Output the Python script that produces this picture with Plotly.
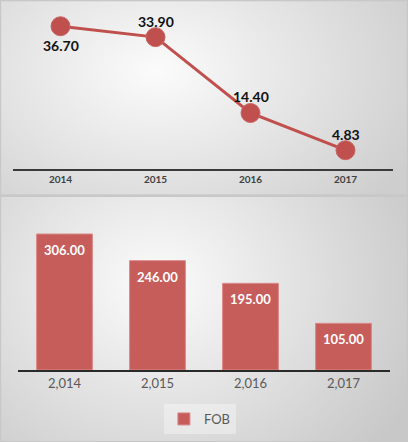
import base64
import struct
import zlib

import plotly.graph_objects as go
from plotly.subplots import make_subplots

# top chart: line
line_years = ["2014", "2015", "2016", "2017"]
line_values = [36.70, 33.90, 14.40, 4.83]
line_label_below = [True, False, False, False]

# bottom chart: bars
bar_years = ["2,014", "2,015", "2,016", "2,017"]
fob_values = [306.00, 246.00, 195.00, 105.00]

RED = "#c0504d"
BAR_RED = "#c75d5b"
W, H = 408, 442
FONT = "Lato, Open Sans, sans-serif"


def gradient_png(w, h, cx, cy, c_in, c_out):
    # small radial grey gradient, stretched behind each panel
    raw = bytearray()
    for j in range(h):
        raw.append(0)
        for i in range(w):
            d = ((i / w - cx) ** 2 + ((j / h - cy) * 0.7) ** 2) ** 0.5 / 0.72
            d = min(1.0, d)
            v = int(c_in + (c_out - c_in) * d)
            raw += bytes([v, v, v])

    def chunk(tag, data):
        return (struct.pack(">I", len(data)) + tag + data
                + struct.pack(">I", zlib.crc32(tag + data) & 0xffffffff))

    png = (b"\x89PNG\r\n\x1a\n"
           + chunk(b"IHDR", struct.pack(">IIBBBBB", w, h, 8, 2, 0, 0, 0))
           + chunk(b"IDAT", zlib.compress(bytes(raw)))
           + chunk(b"IEND", b""))
    return "data:image/png;base64," + base64.b64encode(png).decode()


fig = make_subplots(rows=2, cols=1)

fig.add_trace(go.Scatter(
    x=line_years, y=line_values,
    mode="lines+markers",
    line=dict(color=RED, width=3),
    marker=dict(color=RED, size=19, line=dict(color="#c86563", width=1)),
    showlegend=False, cliponaxis=False, hoverinfo="skip",
), row=1, col=1)

fig.add_trace(go.Bar(
    x=bar_years, y=fob_values, name="FOB",
    marker=dict(color=BAR_RED, line=dict(color="#d98886", width=1)),
    width=0.6, hoverinfo="skip",
), row=2, col=1)

# value labels (category index on the x axis, value on the y axis)
for i, (v, below) in enumerate(zip(line_values, line_label_below)):
    fig.add_annotation(x=i, y=v, xref="x", yref="y", text=f"{v:.2f}", showarrow=False,
                       yshift=-19 if below else 16,
                       font=dict(family=FONT, size=14, color="#111111", weight="bold"))
for i, v in enumerate(fob_values):
    fig.add_annotation(x=i, y=v, xref="x2", yref="y2", text=f"{v:.2f}", showarrow=False,
                       yshift=-16,
                       font=dict(family=FONT, size=13, color="white", weight="bold"))

top_img = gradient_png(136, 66, 0.38, 0.35, 252, 206)
bot_img = gradient_png(136, 82, 0.38, 0.35, 252, 200)

fig.update_layout(
    width=W, height=H,
    margin=dict(l=0, r=0, t=0, b=0),
    paper_bgcolor="#c8c8c8",
    plot_bgcolor="rgba(0,0,0,0)",
    font=dict(family=FONT),
    images=[
        dict(source=top_img, xref="paper", yref="paper", x=0.003, y=0.997,
             sizex=0.994, sizey=193 / H, sizing="stretch", layer="below"),
        dict(source=bot_img, xref="paper", yref="paper", x=0.003, y=1 - 197 / H,
             sizex=0.994, sizey=244 / H, sizing="stretch", layer="below"),
    ],
    legend=dict(orientation="h", x=0.49, xanchor="center", y=1 - 419 / H, yanchor="middle",
                bgcolor="rgba(255,255,255,0.35)", itemwidth=30,
                font=dict(size=13, color="#595959")),
)

fig.update_xaxes(row=1, col=1, type="category", domain=[13 / W, 393 / W], range=[-0.5, 3.5],
                 showline=True, linecolor="#3a3a3a",
                 linewidth=2, showgrid=False, ticks="", fixedrange=True,
                 tickfont=dict(size=10, color="#404040", weight="bold"))
fig.update_yaxes(row=1, col=1, domain=[1 - 169 / H, 1 - 13.4 / H], range=[0, 40],
                 visible=False, showgrid=False, fixedrange=True)

fig.update_xaxes(row=2, col=1, type="category", domain=[18 / W, 390 / W], range=[-0.5, 3.5],
                 showline=True, linecolor="#2a2a2a",
                 linewidth=2, showgrid=False, ticks="", fixedrange=True,
                 tickfont=dict(size=13, color="#595959"))
fig.update_yaxes(row=2, col=1, domain=[1 - 370 / H, 1 - (370 - 350 * 136 / 306) / H],
                 range=[0, 350], visible=False, showgrid=False, fixedrange=True)

fig.write_html("out.html", config={"displayModeBar": False},
               post_script="document.body.style.margin='0';")
